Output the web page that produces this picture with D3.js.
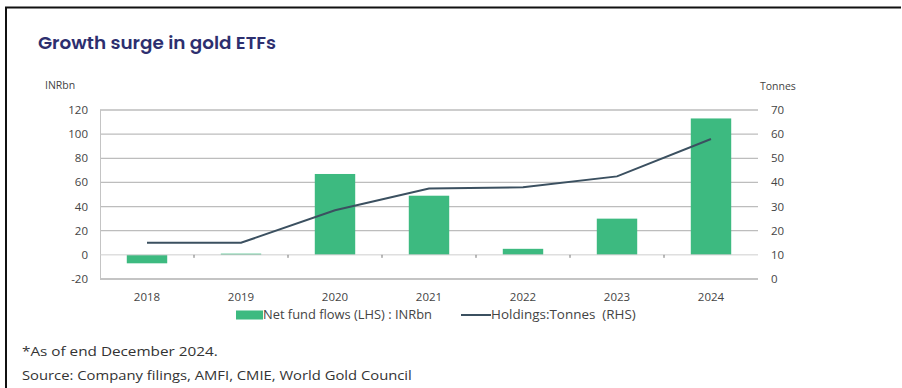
<!DOCTYPE html>
<html><head><meta charset="utf-8">
<script src="https://cdn.jsdelivr.net/npm/d3@7"></script>
<style>html,body{margin:0;padding:0;background:#fff;}svg{display:block;}</style>
</head><body>
<script>
const years = ["2018","2019","2020","2021","2022","2023","2024"];
const netFlows = [-7, 1, 67, 49, 5, 30, 113];
const holdings = [15, 15, 28.5, 37.5, 38, 42.5, 58];
const leftTicks = [-20, 0, 20, 40, 60, 80, 100, 120];
const rightTicks = [0, 10, 20, 30, 40, 50, 60, 70];

const W = 902, H = 388;
const svg = d3.select("body").append("svg").attr("width", W).attr("height", H);
const font = "'Open Sans', sans-serif";

// helper: draw text scaled horizontally to a target width
function fitted(xPos, yPos, str, size, targetW, color) {
  const g = svg.append("g").attr("transform", `translate(${xPos},${yPos})`);
  const t = g.append("text").attr("dy","0.35em").text(str)
    .attr("font-family",font).attr("font-size",size).attr("fill",color)
    .style("white-space","pre");
  const len = t.node().getComputedTextLength();
  g.attr("transform", `translate(${xPos},${yPos}) scale(${targetW/len},1)`);
  return g;
}

// frame
svg.append("line").attr("x1",5).attr("x2",901).attr("y1",7.5).attr("y2",7.5).attr("stroke","#111").attr("stroke-width",2);
svg.append("line").attr("x1",6).attr("x2",6).attr("y1",7).attr("y2",H).attr("stroke","#111").attr("stroke-width",2);

// title
svg.append("text").attr("x",38).attr("y",49).text("Growth surge in gold ETFs")
  .attr("font-family","Poppins, 'Open Sans', sans-serif").attr("font-weight",600).attr("font-size",17)
  .attr("fill","#2d2f6f").attr("textLength",238).attr("lengthAdjust","spacingAndGlyphs");

const x = d3.scaleBand().domain(years).range([100,758]).paddingInner(0.57).paddingOuter(0.285);
const yL = d3.scaleLinear().domain([-20,120]).range([279,110]);
const yR = d3.scaleLinear().domain([0,70]).range([279,110]);

// gridlines
svg.append("g").selectAll("line").data(leftTicks.filter(d=>d!==0 && d!==-20)).join("line")
  .attr("x1",100).attr("x2",758).attr("y1",d=>yL(d)).attr("y2",d=>yL(d))
  .attr("stroke","#bdbdbd").attr("stroke-width",1.3);
// bottom line
svg.append("line").attr("x1",100).attr("x2",758).attr("y1",yL(-20)).attr("y2",yL(-20)).attr("stroke","#b0b0b0").attr("stroke-width",1.3);
// left axis line
svg.append("line").attr("x1",100.5).attr("x2",100.5).attr("y1",yL(120)).attr("y2",yL(-20)).attr("stroke","#c4c4c4").attr("stroke-width",1);

// left tick labels
svg.append("g").selectAll("text").data(leftTicks).join("text")
  .attr("x",88).attr("y",d=>yL(d)).attr("dy","0.35em").attr("text-anchor","end")
  .attr("font-family",font).attr("font-size",11.5).attr("fill","#444").text(d=>d);
// right tick labels
svg.append("g").selectAll("text").data(rightTicks).join("text")
  .attr("x",771).attr("y",d=>yR(d)).attr("dy","0.35em").attr("text-anchor","start")
  .attr("font-family",font).attr("font-size",11.5).attr("fill","#444").text(d=>d);
// axis titles
svg.append("text").attr("x",45).attr("y",85).attr("dy","0.35em").text("INRbn")
  .attr("font-family",font).attr("font-size",10.5).attr("fill","#444");
svg.append("text").attr("x",760).attr("y",86).attr("dy","0.35em").text("Tonnes")
  .attr("font-family",font).attr("font-size",10.5).attr("fill","#444");

// bars
svg.append("g").selectAll("rect").data(netFlows).join("rect")
  .attr("x",(d,i)=>x(years[i])).attr("width",x.bandwidth())
  .attr("y",d=>yL(Math.max(0,d))).attr("height",d=>Math.abs(yL(d)-yL(0)))
  .attr("fill","#3dba80");

// zero line
svg.append("line").attr("x1",100).attr("x2",758).attr("y1",yL(0)).attr("y2",yL(0)).attr("stroke","#cfcfcf").attr("stroke-width",1);
// tick marks at band boundaries
const bounds = d3.range(1, years.length).map(i => x.range()[0] + x.step()*i);
svg.append("g").selectAll("line").data(bounds).join("line")
  .attr("x1",d=>d).attr("x2",d=>d).attr("y1",yL(0)).attr("y2",yL(0)+3)
  .attr("stroke","#777").attr("stroke-width",1);

// holdings line
const line = d3.line().x((d,i)=>x(years[i])+x.bandwidth()/2).y(d=>yR(d));
svg.append("path").datum(holdings).attr("d",line).attr("fill","none")
  .attr("stroke","#3b5060").attr("stroke-width",2);

// x labels
svg.append("g").selectAll("text").data(years).join("text")
  .attr("x",d=>x(d)+x.bandwidth()/2).attr("y",297).attr("dy","0.35em").attr("text-anchor","middle")
  .attr("font-family",font).attr("font-size",11.5).attr("fill","#444").text(d=>d);

// legend
svg.append("rect").attr("x",236).attr("y",310.5).attr("width",27).attr("height",9).attr("fill","#3dba80");
fitted(263, 315, "Net fund flows (LHS) : INRbn", 12.5, 169, "#444");
svg.append("line").attr("x1",461).attr("x2",491).attr("y1",315).attr("y2",315).attr("stroke","#3b5060").attr("stroke-width",2);
fitted(491, 315, "Holdings:Tonnes  (RHS)", 12.5, 145, "#444");

// footnotes
fitted(22, 351, "*As of end December 2024.", 13.5, 196, "#333");
fitted(22, 375, "Source: Company filings, AMFI, CMIE, World Gold Council", 13.5, 390, "#333");
</script>
</body></html>
